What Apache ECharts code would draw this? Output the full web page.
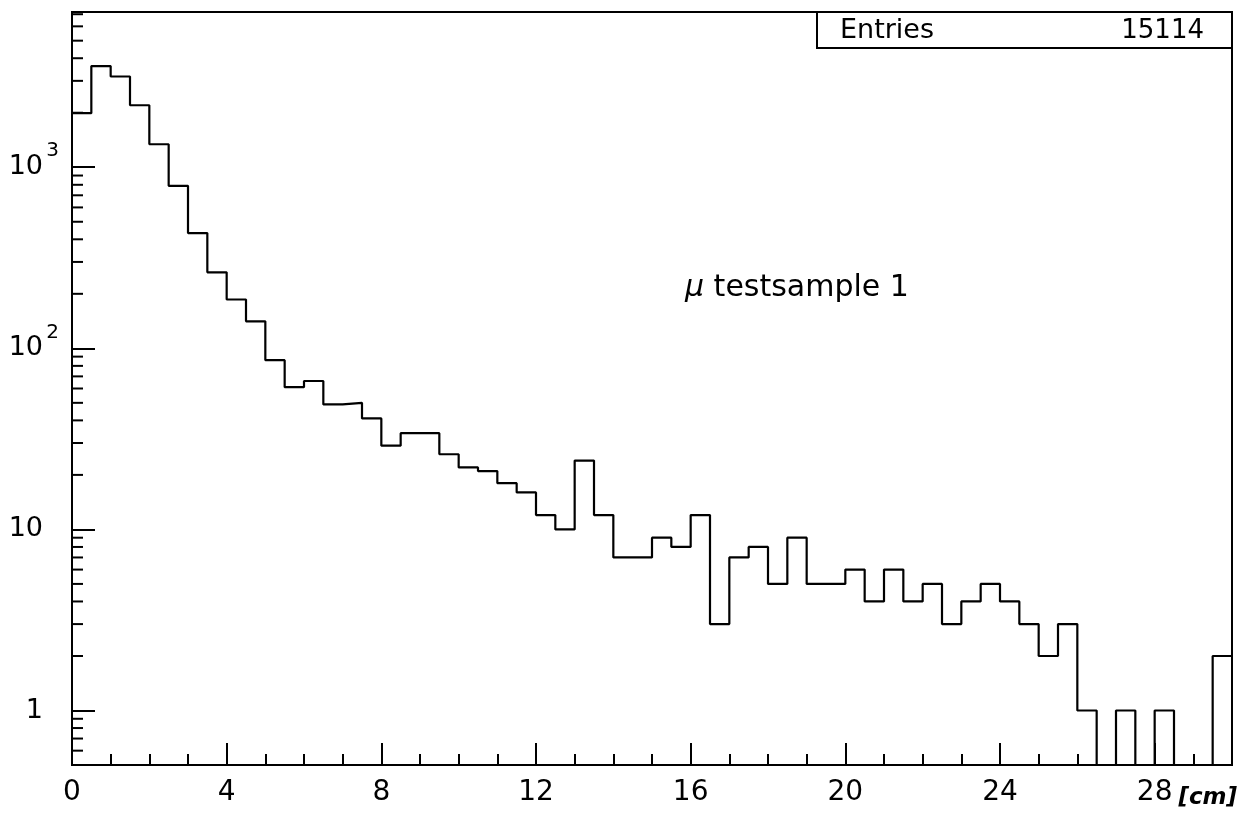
<!DOCTYPE html>
<html><head><meta charset="utf-8">
<script src="https://cdn.jsdelivr.net/npm/echarts@6/dist/echarts.min.js"></script>
<style>html,body{margin:0;padding:0;background:#fff}#c{width:1248px;height:817px}</style>
</head><body><div id="c"></div>
<script>
// ---- data ----
const X_MIN = 0, X_MAX = 30, BIN_WIDTH = 0.5, X_TICK_STEP = 4;
const Y_MIN = 0.5, Y_MAX = 7200;
const counts = [
  1990, 3620, 3170, 2200, 1340, 790, 433, 263, 186, 141,
  86, 61, 66, 49, 50, 41, 29, 34, 34, 26,
  22, 21, 18, 16, 12, 10, 24, 12, 7, 7,
  9, 8, 12, 3, 7, 8, 5, 9, 5, 5,
  6, 4, 6, 4, 5, 3, 4, 5, 4, 3,
  2, 3, 1, 0, 1, 0, 1, 0, 0, 2
];
const yMinorTicks = [0.6, 0.7, 0.8, 0.9, 2, 3, 4, 5, 6, 7, 8, 9,
  20, 30, 40, 50, 60, 70, 80, 90, 200, 300, 400, 500, 600, 700, 800, 900,
  2000, 3000, 4000, 5000, 6000, 7000];
const ENTRIES = 15114;
const SAMPLE_LABEL = 'testsample 1';
const X_UNIT = '[cm]';

// ---- build ----
const FONT = 'DejaVu Sans';
const stepData = counts.map((c, i) => [X_MIN + i * BIN_WIDTH, c > 0 ? c : Y_MIN]);
stepData.push([X_MIN + counts.length * BIN_WIDTH, counts[counts.length - 1] > 0 ? counts[counts.length - 1] : Y_MIN]);

function isPow10(v) { const l = Math.log10(v); return Math.abs(l - Math.round(l)) < 1e-6 && Math.round(l) >= 0; }

const chart = echarts.init(document.getElementById('c'), null, {renderer: 'canvas'});
chart.setOption({
  animation: false,
  backgroundColor: '#fff',
  grid: {left: 72, right: 16, top: 12, bottom: 52, show: true, borderColor: '#000', borderWidth: 2, containLabel: false},
  xAxis: {
    type: 'value', min: X_MIN, max: X_MAX, interval: X_TICK_STEP,
    axisLine: {show: true, lineStyle: {color: '#000', width: 2}},
    axisTick: {show: true, inside: true, length: 22, lineStyle: {color: '#000', width: 2}},
    minorTick: {show: true, splitNumber: 4, length: 11, lineStyle: {color: '#000', width: 2}},
    splitLine: {show: false},
    axisLabel: {color: '#000', fontFamily: FONT, fontSize: 28, margin: 14, showMaxLabel: false},
    name: X_UNIT, nameLocation: 'end', nameGap: 4,
    nameTextStyle: {color: '#000', fontFamily: FONT, fontStyle: 'italic', fontWeight: 'bold', fontSize: 23,
      align: 'right', verticalAlign: 'top', padding: [22, 0, 0, 0]}
  },
  yAxis: [{
    type: 'log', logBase: 10, min: Y_MIN, max: Y_MAX,
    axisLine: {show: true, lineStyle: {color: '#000', width: 2}},
    axisTick: {show: true, inside: true, length: 23, lineStyle: {color: '#000', width: 2}},
    splitLine: {show: false},
    axisLabel: {color: '#000', fontFamily: FONT, fontSize: 27, margin: 29, showMinLabel: false, showMaxLabel: false,
      formatter: v => isPow10(v) ? (v >= 100 ? '10' : String(Math.round(v))) : ''}
  }, {
    type: 'log', logBase: 10, min: Y_MIN, max: Y_MAX, position: 'left',
    axisLine: {show: false}, axisTick: {show: false}, splitLine: {show: false},
    axisLabel: {color: '#000', fontFamily: FONT, fontSize: 20, margin: 13, verticalAlign: 'bottom', padding: [0, 0, 6, 0],
      showMinLabel: false, showMaxLabel: false,
      formatter: v => (isPow10(v) && v >= 100) ? String(Math.round(Math.log10(v))) : ''}
  }],
  series: [{
    type: 'line', step: 'end', data: stepData, xAxisIndex: 0, yAxisIndex: 0,
    showSymbol: false, symbol: 'none', silent: true,
    lineStyle: {color: '#000', width: 2.2}, z: 3
  }, {
    type: 'custom', xAxisIndex: 0, yAxisIndex: 0, silent: true, z: 4,
    data: yMinorTicks.map(v => [X_MIN, v]),
    renderItem: (params, api) => {
      const p = api.coord([api.value(0), api.value(1)]);
      return {type: 'line', shape: {x1: p[0], y1: p[1], x2: p[0] + 11, y2: p[1]}, style: {stroke: '#000', lineWidth: 2}};
    }
  }],
  graphic: [
    {type: 'rect', shape: {x: 817, y: 12, width: 415, height: 36}, style: {fill: '#fff', stroke: '#000', lineWidth: 2}, z: 10},
    {type: 'text', x: 840, y: 31, z: 11, style: {text: 'Entries', fontFamily: FONT, fontSize: 27, fill: '#000', align: 'left', verticalAlign: 'middle'}},
    {type: 'text', x: 1204, y: 31, z: 11, style: {text: String(ENTRIES), fontFamily: FONT, fontSize: 26, fill: '#000', align: 'right', verticalAlign: 'middle'}},
    {type: 'text', x: 685, y: 288, z: 11, style: {text: '{m|μ} ' + SAMPLE_LABEL, fontFamily: FONT, fontSize: 30, fill: '#000', align: 'left', verticalAlign: 'middle',
      rich: {m: {fontFamily: FONT, fontSize: 30, fontStyle: 'italic', fill: '#000'}}}}
  ]
});
</script></body></html>
